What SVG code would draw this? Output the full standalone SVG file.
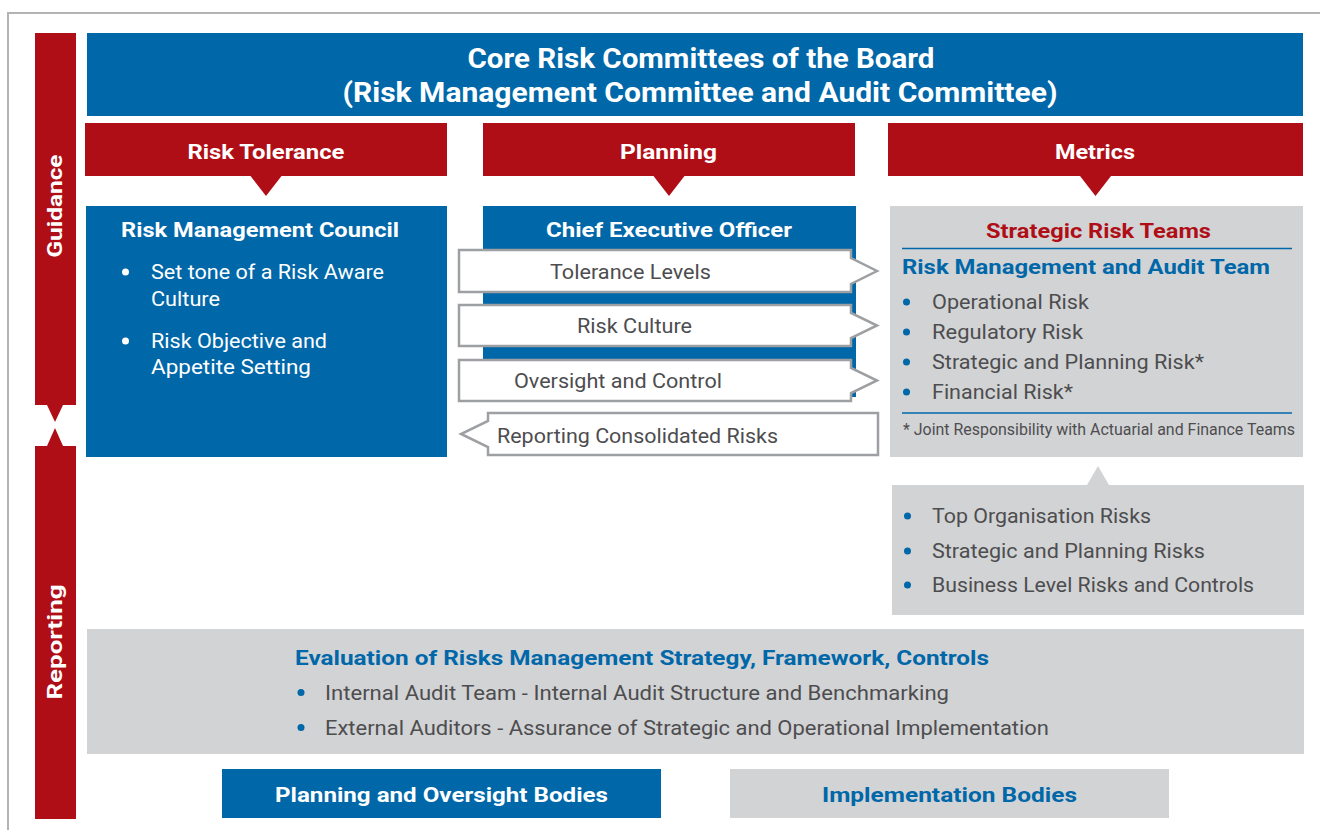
<svg xmlns="http://www.w3.org/2000/svg" width="1320" height="830" viewBox="0 0 1320 830">
<style>
text{font-family:Roboto,"Liberation Sans",sans-serif;}
.b{font-weight:bold;}
.w{fill:#ffffff;}
.g{fill:#4d4d4f;}
.bl{fill:#0067a9;}
.rd{fill:#b00e17;}
.body{font-size:21px;}
.hd{font-size:21px;font-weight:bold;}
.red{fill:#b00e17;}
.blue{fill:#0067a9;}
.grey{fill:#d2d3d5;}
.arr{fill:#ffffff;stroke:#9d9fa2;stroke-width:2.5;}
.rule{stroke:#0067a9;stroke-width:1.5;}
</style>
<rect x="0" y="0" width="1320" height="830" fill="#ffffff"/>
<path d="M8,830 V13 H1320" fill="none" stroke="#b3b3b3" stroke-width="2"/>

<g id="guidance">
<path class="red" d="M35,33 H76 V405 H63 L55,422 L47,405 H35 Z"/>
<text class="w b" font-size="21" transform="translate(62,206) rotate(-90)" text-anchor="middle" textLength="103" lengthAdjust="spacingAndGlyphs">Guidance</text>
</g>
<g id="reporting">
<path class="red" d="M35,446 H47 L55,428 L63,446 H76 V819 H35 Z"/>
<text class="w b" font-size="21" transform="translate(62,642) rotate(-90)" text-anchor="middle" textLength="115" lengthAdjust="spacingAndGlyphs">Reporting</text>
</g>

<g id="board">
<rect class="blue" x="87" y="33" width="1216" height="83"/>
<text class="w b" font-size="27" x="701" y="68" text-anchor="middle" textLength="467" lengthAdjust="spacingAndGlyphs">Core Risk Committees of the Board</text>
<text class="w b" font-size="27" x="700" y="102" text-anchor="middle" textLength="715" lengthAdjust="spacingAndGlyphs">(Risk Management Committee and Audit Committee)</text>
</g>

<g id="risk-tolerance">
<path class="red" d="M85,123 H447 V176 H281.5 L266,196 L250.5,176 H85 Z"/>
<text class="w hd" x="266" y="159" text-anchor="middle" textLength="157" lengthAdjust="spacingAndGlyphs">Risk Tolerance</text>
</g>
<g id="planning">
<path class="red" d="M483,123 H855 V176 H684.5 L669,196 L653.5,176 H483 Z"/>
<text class="w hd" x="668.5" y="159" text-anchor="middle" textLength="97" lengthAdjust="spacingAndGlyphs">Planning</text>
</g>
<g id="metrics">
<path class="red" d="M888,123 H1303 V176 H1111 L1095.5,196 L1080,176 H888 Z"/>
<text class="w hd" x="1095" y="159" text-anchor="middle" textLength="80" lengthAdjust="spacingAndGlyphs">Metrics</text>
</g>

<g id="risk-management-council">
<rect class="blue" x="86" y="206" width="361" height="251"/>
<text class="w hd" x="121" y="237" textLength="278" lengthAdjust="spacingAndGlyphs">Risk Management Council</text>
<circle cx="125.5" cy="272" r="3.5" fill="#ffffff"/>
<text class="w body" x="151" y="279" textLength="233" lengthAdjust="spacingAndGlyphs">Set tone of a Risk Aware</text>
<text class="w body" x="151" y="306" textLength="69" lengthAdjust="spacingAndGlyphs">Culture</text>
<circle cx="125.5" cy="341" r="3.5" fill="#ffffff"/>
<text class="w body" x="151" y="348" textLength="176" lengthAdjust="spacingAndGlyphs">Risk Objective and</text>
<text class="w body" x="151" y="374" textLength="160" lengthAdjust="spacingAndGlyphs">Appetite Setting</text>
</g>

<g id="ceo">
<rect class="blue" x="483" y="206" width="373" height="191"/>
<text class="w hd" x="669" y="237" text-anchor="middle" textLength="246" lengthAdjust="spacingAndGlyphs">Chief Executive Officer</text>
</g>

<g id="strategic-risk-teams">
<rect class="grey" x="890" y="206" width="413" height="251"/>
<text class="rd hd" x="1098.5" y="238" text-anchor="middle" textLength="225" lengthAdjust="spacingAndGlyphs">Strategic Risk Teams</text>
<line class="rule" x1="902" y1="248.5" x2="1292" y2="248.5"/>
<text class="bl hd" x="902" y="274" textLength="368" lengthAdjust="spacingAndGlyphs">Risk Management and Audit Team</text>
<circle cx="906.5" cy="302" r="3.5" fill="#0067a9"/>
<text class="g body" x="932" y="309" textLength="157" lengthAdjust="spacingAndGlyphs">Operational Risk</text>
<circle cx="906.5" cy="332" r="3.5" fill="#0067a9"/>
<text class="g body" x="932" y="339" textLength="151" lengthAdjust="spacingAndGlyphs">Regulatory Risk</text>
<circle cx="906.5" cy="362" r="3.5" fill="#0067a9"/>
<text class="g body" x="932" y="369" textLength="272" lengthAdjust="spacingAndGlyphs">Strategic and Planning Risk*</text>
<circle cx="906.5" cy="392" r="3.5" fill="#0067a9"/>
<text class="g body" x="932" y="399" textLength="141" lengthAdjust="spacingAndGlyphs">Financial Risk*</text>
<line class="rule" x1="902" y1="413" x2="1292" y2="413"/>
<text class="g" font-size="16" x="903" y="435" textLength="392" lengthAdjust="spacingAndGlyphs">* Joint Responsibility with Actuarial and Finance Teams</text>
</g>

<g id="organisation-risks">
<path class="grey" d="M892,485 H1087 L1098,466 L1109,485 H1304 V615 H892 Z"/>
<circle cx="907.5" cy="516" r="3.5" fill="#0067a9"/>
<text class="g body" x="932" y="523" textLength="219" lengthAdjust="spacingAndGlyphs">Top Organisation Risks</text>
<circle cx="907.5" cy="551" r="3.5" fill="#0067a9"/>
<text class="g body" x="932" y="558" textLength="273" lengthAdjust="spacingAndGlyphs">Strategic and Planning Risks</text>
<circle cx="907.5" cy="585" r="3.5" fill="#0067a9"/>
<text class="g body" x="932" y="592" textLength="322" lengthAdjust="spacingAndGlyphs">Business Level Risks and Controls</text>
</g>

<g id="evaluation">
<rect class="grey" x="87" y="629" width="1217" height="125"/>
<text class="bl hd" x="295" y="665" textLength="694" lengthAdjust="spacingAndGlyphs">Evaluation of Risks Management Strategy, Framework, Controls</text>
<circle cx="301" cy="692.5" r="3.5" fill="#0067a9"/>
<text class="g body" x="325" y="700" textLength="624" lengthAdjust="spacingAndGlyphs">Internal Audit Team - Internal Audit Structure and Benchmarking</text>
<circle cx="301" cy="727.5" r="3.5" fill="#0067a9"/>
<text class="g body" x="325" y="735" textLength="724" lengthAdjust="spacingAndGlyphs">External Auditors - Assurance of Strategic and Operational Implementation</text>
</g>

<g id="legend-planning">
<rect class="blue" x="222" y="769" width="439" height="49"/>
<text class="w hd" x="441.5" y="802" text-anchor="middle" textLength="333" lengthAdjust="spacingAndGlyphs">Planning and Oversight Bodies</text>
</g>
<g id="legend-implementation">
<rect class="grey" x="730" y="769" width="439" height="49"/>
<text class="bl hd" x="949.5" y="802" text-anchor="middle" textLength="255" lengthAdjust="spacingAndGlyphs">Implementation Bodies</text>
</g>

<g id="connectors">
<path class="arr" d="M459,250 H851 V258 L877,271 L851,284 V292 H459 Z"/>
<text class="g body" x="630.5" y="279" text-anchor="middle" textLength="161" lengthAdjust="spacingAndGlyphs">Tolerance Levels</text>
<path class="arr" d="M459,305 H851 V313 L877,325.5 L851,338 V346 H459 Z"/>
<text class="g body" x="634.5" y="333" text-anchor="middle" textLength="115" lengthAdjust="spacingAndGlyphs">Risk Culture</text>
<path class="arr" d="M459,360 H851 V368 L877,380.5 L851,393 V401 H459 Z"/>
<text class="g body" x="618" y="388" text-anchor="middle" textLength="208" lengthAdjust="spacingAndGlyphs">Oversight and Control</text>
<path class="arr" d="M878,413 V455 H488 V447 L461,434 L488,421 V413 Z"/>
<text class="g body" x="637.5" y="443" text-anchor="middle" textLength="281" lengthAdjust="spacingAndGlyphs">Reporting Consolidated Risks</text>
</g>
</svg>
